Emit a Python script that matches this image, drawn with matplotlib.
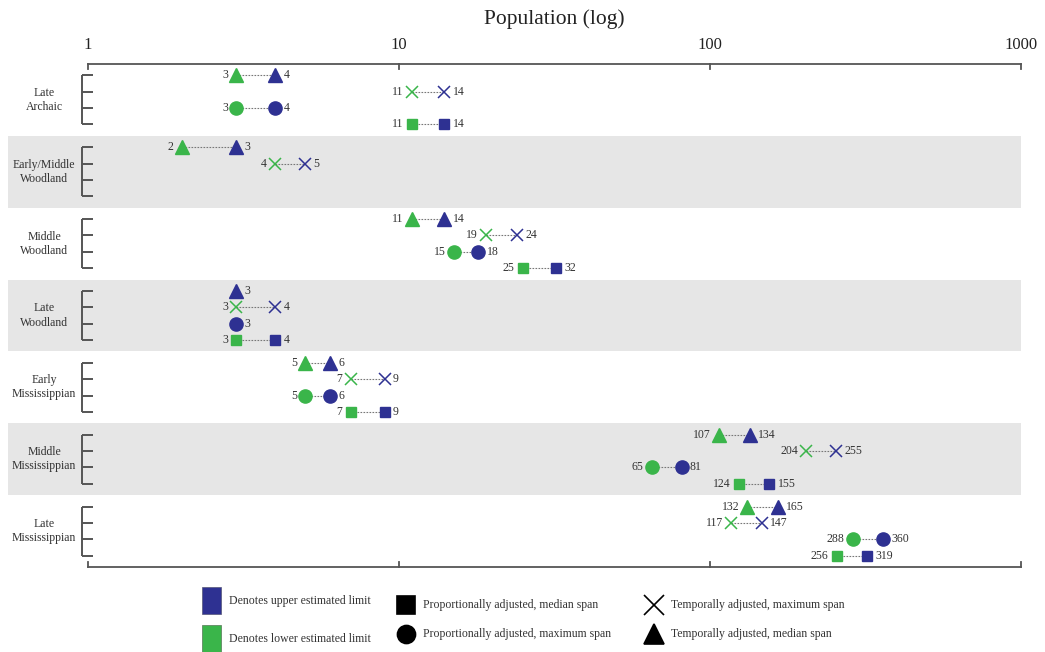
import matplotlib
matplotlib.use("Agg")
import matplotlib.pyplot as plt
from matplotlib.patches import Rectangle
from matplotlib.lines import Line2D
import numpy as np

plt.rcParams['font.family'] = ['Liberation Serif', 'DejaVu Serif']

# ---------------- data ----------------
groups = ["Late\nArchaic", "Early/Middle\nWoodland", "Middle\nWoodland", "Late\nWoodland",
          "Early\nMississippian", "Middle\nMississippian", "Late\nMississippian"]

# Temporally adjusted, median span (triangle)
tri_lower = [3, 2, 11, 3, 5, 107, 132]
tri_upper = [4, 3, 14, 3, 6, 134, 165]
# Temporally adjusted, maximum span (x)
x_lower = [11, 4, 19, 3, 7, 204, 117]
x_upper = [14, 5, 24, 4, 9, 255, 147]
# Proportionally adjusted, maximum span (circle)
circ_lower = [3, None, 15, 3, 5, 65, 288]
circ_upper = [4, None, 18, 3, 6, 81, 360]
# Proportionally adjusted, median span (square)
sq_lower = [11, None, 25, 3, 7, 124, 256]
sq_upper = [14, None, 32, 4, 9, 155, 319]

x_ticks = [1, 10, 100, 1000]
x_tick_labels = ["1", "10", "100", "1000"]

legend_colors = ["Denotes upper estimated limit", "Denotes lower estimated limit"]
legend_markers = ["Proportionally adjusted, median span", "Proportionally adjusted, maximum span",
                  "Temporally adjusted, maximum span", "Temporally adjusted, median span"]

# ---------------- style ----------------
BLUE = '#2e3192'
GREEN = '#3ab54a'
BAND = '#e6e6e6'
AXC = '#555555'
TXT = '#333333'
W, H = 1045, 652
GH = 4.4  # group height in data units

fig = plt.figure(figsize=(W / 100, H / 100), dpi=100)
ax = fig.add_axes([8 / W, 85 / H, 1013 / W, 503 / H])
ax.set_xscale('log')
left_lim = 10 ** (-80 / 311)
ax.set_xlim(left_lim, 1000)
ngroups = len(groups)
ax.set_ylim(GH * ngroups, 0)
ax.axis('off')

def fx(px):
    return (px - 8) / 1013

# bands
for g in range(ngroups):
    if g % 2 == 1:
        ax.axhspan(GH * g, GH * (g + 1), color=BAND, lw=0, zorder=0)

series = [
    ('^', tri_lower, tri_upper, dict(ms=10)),
    ('x', x_lower, x_upper, dict(ms=9, mew=1.1)),
    ('o', circ_lower, circ_upper, dict(ms=9.5)),
    ('s', sq_lower, sq_upper, dict(ms=7.5)),
]

ytr = ax.get_yaxis_transform()
for g in range(ngroups):
    rows = [GH * g + 0.7 + r for r in range(4)]
    # bracket
    ax.plot([fx(82), fx(82)], [rows[0], rows[3]], transform=ytr, color=AXC, lw=1.4,
            clip_on=False, solid_capstyle='butt')
    for yr in rows:
        ax.plot([fx(82), fx(93)], [yr, yr], transform=ytr, color=AXC, lw=1.4, clip_on=False,
                solid_capstyle='butt')
    ax.text(fx(44), GH * g + GH / 2, groups[g], transform=ytr, ha='center', va='center',
            fontsize=8.5, color=TXT, multialignment='center', linespacing=1.25)
    for r, (mk, lo, hi, kw) in enumerate(series):
        l, u = lo[g], hi[g]
        if u is None:
            continue
        yr = rows[r]
        if l is not None and l != u:
            ax.plot([l, u], [yr, yr], ls=(0, (1.5, 1.2)), color='#777777', lw=0.8, zorder=2)
            ax.plot([l], [yr], marker=mk, color=GREEN, mec=GREEN, ls='none', zorder=3, **kw)
            ax.annotate(str(l), (l, yr), xytext=(-6, 0), textcoords='offset points',
                        ha='right', va='center', fontsize=8.5, color=TXT)
        ax.plot([u], [yr], marker=mk, color=BLUE, mec=BLUE, ls='none', zorder=4, **kw)
        ax.annotate(str(u), (u, yr), xytext=(6, 0), textcoords='offset points',
                    ha='left', va='center', fontsize=8.5, color=TXT)

# top and bottom axis lines
ytop, ybot = 0, GH * ngroups
ax.plot([1, 1000], [ytop, ytop], color=AXC, lw=1.3, clip_on=False, zorder=5)
ax.plot([1, 1000], [ybot, ybot], color=AXC, lw=1.3, clip_on=False, zorder=5)
for t, lab in zip(x_ticks, x_tick_labels):
    ax.plot([t, t], [ytop, ytop + 0.28], color=AXC, lw=1.3, clip_on=False, zorder=5)
    ax.plot([t, t], [ybot, ybot - 0.28], color=AXC, lw=1.3, clip_on=False, zorder=5)
    ax.annotate(lab, (t, 1.0), xycoords=('data', 'axes fraction'), xytext=(0, 14),
                textcoords='offset points', ha='center', va='center', fontsize=12, color='#222222')

fig.text(554 / W, 1 - 19 / H, "Population (log)", ha='center', va='center', fontsize=15.5,
         color='#222222')

# ---------------- legend ----------------
def fy(py):
    return 1 - py / H

fig.add_artist(Rectangle((202 / W, fy(614)), 19 / W, 27 / H, transform=fig.transFigure,
                         facecolor=BLUE, edgecolor='#555577', lw=0.5))
fig.add_artist(Rectangle((202 / W, fy(652)), 19 / W, 27 / H, transform=fig.transFigure,
                         facecolor=GREEN, edgecolor='#557755', lw=0.5))
fig.text(229 / W, fy(601), legend_colors[0], ha='left', va='center', fontsize=8.5, color=TXT)
fig.text(229 / W, fy(639), legend_colors[1], ha='left', va='center', fontsize=8.5, color=TXT)

leg_items = [('s', 406, 605, 13, legend_markers[0], 423),
             ('o', 406, 634, 13, legend_markers[1], 423),
             ('x', 654, 605, 14, legend_markers[2], 671),
             ('^', 654, 634, 15, legend_markers[3], 671)]
for mk, px, py, ms, lab, tx in leg_items:
    fig.add_artist(Line2D([px / W], [fy(py)], transform=fig.transFigure, marker=mk, ms=ms,
                          color='black', mec='black', mew=1.2, ls='none'))
    fig.text(tx / W, fy(py), lab, ha='left', va='center', fontsize=8.5, color=TXT)

fig.savefig('out.png', dpi=100, facecolor='white')
